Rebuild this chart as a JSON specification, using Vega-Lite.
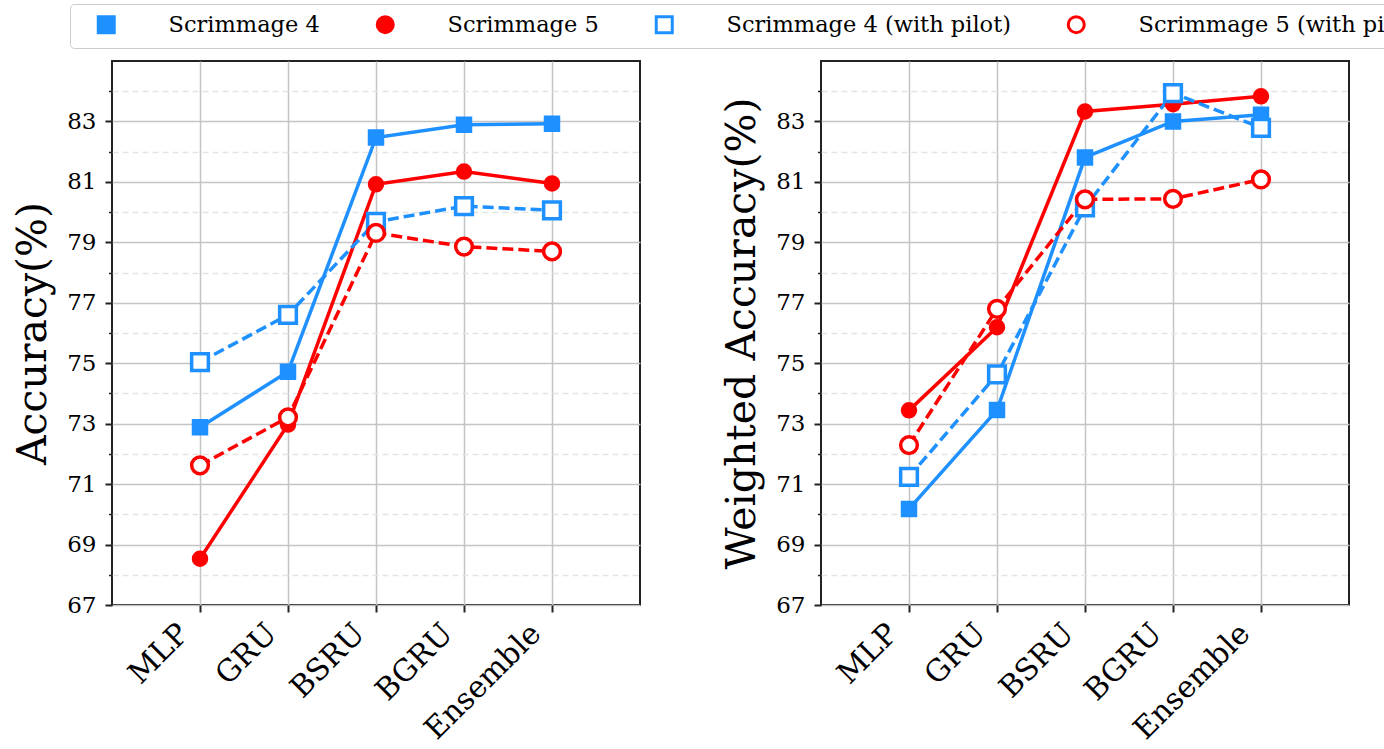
{
  "$schema": "https://vega.github.io/schema/vega-lite/v6.json",
  "description": "Accuracy and weighted accuracy by model, Scrimmage 4 and 5, with and without pilot.",
  "padding": {"left": 11, "top": 3, "right": 0, "bottom": 0},
  "spacing": 79,
  "datasets": {
    "acc": [
      {"panel": "Accuracy", "series": "Scrimmage 4", "model": "MLP", "value": 72.88},
      {"panel": "Accuracy", "series": "Scrimmage 4", "model": "GRU", "value": 74.72},
      {"panel": "Accuracy", "series": "Scrimmage 4", "model": "BSRU", "value": 82.47},
      {"panel": "Accuracy", "series": "Scrimmage 4", "model": "BGRU", "value": 82.89},
      {"panel": "Accuracy", "series": "Scrimmage 4", "model": "Ensemble", "value": 82.92},
      {"panel": "Accuracy", "series": "Scrimmage 5", "model": "MLP", "value": 68.53},
      {"panel": "Accuracy", "series": "Scrimmage 5", "model": "GRU", "value": 72.97},
      {"panel": "Accuracy", "series": "Scrimmage 5", "model": "BSRU", "value": 80.92},
      {"panel": "Accuracy", "series": "Scrimmage 5", "model": "BGRU", "value": 81.34},
      {"panel": "Accuracy", "series": "Scrimmage 5", "model": "Ensemble", "value": 80.95},
      {"panel": "Accuracy", "series": "Scrimmage 4 (with pilot)", "model": "MLP", "value": 75.04},
      {"panel": "Accuracy", "series": "Scrimmage 4 (with pilot)", "model": "GRU", "value": 76.6},
      {"panel": "Accuracy", "series": "Scrimmage 4 (with pilot)", "model": "BSRU", "value": 79.68},
      {"panel": "Accuracy", "series": "Scrimmage 4 (with pilot)", "model": "BGRU", "value": 80.2},
      {"panel": "Accuracy", "series": "Scrimmage 4 (with pilot)", "model": "Ensemble", "value": 80.06},
      {"panel": "Accuracy", "series": "Scrimmage 5 (with pilot)", "model": "MLP", "value": 71.62},
      {"panel": "Accuracy", "series": "Scrimmage 5 (with pilot)", "model": "GRU", "value": 73.21},
      {"panel": "Accuracy", "series": "Scrimmage 5 (with pilot)", "model": "BSRU", "value": 79.31},
      {"panel": "Accuracy", "series": "Scrimmage 5 (with pilot)", "model": "BGRU", "value": 78.86},
      {"panel": "Accuracy", "series": "Scrimmage 5 (with pilot)", "model": "Ensemble", "value": 78.7},
      {"panel": "Weighted", "series": "Scrimmage 4", "model": "MLP", "value": 70.18},
      {"panel": "Weighted", "series": "Scrimmage 4", "model": "GRU", "value": 73.45},
      {"panel": "Weighted", "series": "Scrimmage 4", "model": "BSRU", "value": 81.81},
      {"panel": "Weighted", "series": "Scrimmage 4", "model": "BGRU", "value": 83.0},
      {"panel": "Weighted", "series": "Scrimmage 4", "model": "Ensemble", "value": 83.22},
      {"panel": "Weighted", "series": "Scrimmage 5", "model": "MLP", "value": 73.44},
      {"panel": "Weighted", "series": "Scrimmage 5", "model": "GRU", "value": 76.19},
      {"panel": "Weighted", "series": "Scrimmage 5", "model": "BSRU", "value": 83.33},
      {"panel": "Weighted", "series": "Scrimmage 5", "model": "BGRU", "value": 83.57},
      {"panel": "Weighted", "series": "Scrimmage 5", "model": "Ensemble", "value": 83.83},
      {"panel": "Weighted", "series": "Scrimmage 4 (with pilot)", "model": "MLP", "value": 71.24},
      {"panel": "Weighted", "series": "Scrimmage 4 (with pilot)", "model": "GRU", "value": 74.63},
      {"panel": "Weighted", "series": "Scrimmage 4 (with pilot)", "model": "BSRU", "value": 80.16},
      {"panel": "Weighted", "series": "Scrimmage 4 (with pilot)", "model": "BGRU", "value": 83.94},
      {"panel": "Weighted", "series": "Scrimmage 4 (with pilot)", "model": "Ensemble", "value": 82.79},
      {"panel": "Weighted", "series": "Scrimmage 5 (with pilot)", "model": "MLP", "value": 72.29},
      {"panel": "Weighted", "series": "Scrimmage 5 (with pilot)", "model": "GRU", "value": 76.8},
      {"panel": "Weighted", "series": "Scrimmage 5 (with pilot)", "model": "BSRU", "value": 80.42},
      {"panel": "Weighted", "series": "Scrimmage 5 (with pilot)", "model": "BGRU", "value": 80.44},
      {"panel": "Weighted", "series": "Scrimmage 5 (with pilot)", "model": "Ensemble", "value": 81.08}
    ]
  },
  "data": {"name": "acc"},
  "hconcat": [
    {
      "width": 528,
      "height": 544,
      "transform": [{"filter": "datum.panel == 'Accuracy'"}],
      "resolve": {"axis": {"y": "independent"}},
      "layer": [
        {
          "transform": [{"filter": "indexof(datum.series, 'pilot') < 0"}],
          "mark": {"type": "line", "strokeWidth": 3.5},
          "encoding": {
            "x": {"field": "model", "type": "ordinal", "sort": ["MLP", "GRU", "BSRU", "BGRU", "Ensemble"], "scale": {"type": "point", "padding": 1},
              "axis": {"title": null, "labelAngle": -45, "labelAlign": "right", "labelBaseline": "top", "labelFontSize": 30, "labelPadding": 6, "labelOffset": -27, "tickSize": 7, "tickWidth": 2, "grid": true, "gridColor": "#c4c4c4", "gridWidth": 1.5}},
            "y": {"field": "value", "type": "quantitative", "scale": {"domain": [67, 85], "nice": false, "zero": false},
              "axis": {"title": "Accuracy(%)", "orient": "left", "values": [67, 69, 71, 73, 75, 77, 79, 81, 83], "labelFontSize": 23, "labelPadding": 9, "tickSize": 7, "tickWidth": 2, "titleFontSize": 41, "titlePadding": 12, "grid": true, "gridColor": "#c4c4c4", "gridWidth": 1.5}},
            "color": {"field": "series", "type": "nominal",
              "scale": {"domain": ["Scrimmage 4", "Scrimmage 5", "Scrimmage 4 (with pilot)", "Scrimmage 5 (with pilot)"], "range": ["#1E90FF", "#FF0000", "#1E90FF", "#FF0000"]}}
          }
        },
        {
          "transform": [{"filter": "indexof(datum.series, 'pilot') >= 0"}],
          "mark": {"type": "line", "strokeWidth": 3.5, "strokeDash": [11, 5]},
          "encoding": {
            "x": {"field": "model", "type": "ordinal", "sort": ["MLP", "GRU", "BSRU", "BGRU", "Ensemble"], "scale": {"type": "point", "padding": 1},
              "axis": {"title": null, "labelAngle": -45, "labelAlign": "right", "labelBaseline": "top", "labelFontSize": 30, "labelPadding": 6, "labelOffset": -27, "tickSize": 7, "tickWidth": 2, "grid": true, "gridColor": "#c4c4c4", "gridWidth": 1.5}},
            "y": {"field": "value", "type": "quantitative",
              "axis": {"title": null, "orient": "left", "values": [68, 70, 72, 74, 76, 78, 80, 82, 84], "labels": false, "tickSize": 3.5, "tickWidth": 1.5, "grid": true, "gridColor": "#e4e4e4", "gridWidth": 1.5, "gridDash": [6, 4]}},
            "color": {"field": "series", "type": "nominal"}
          }
        },
        {
          "transform": [{"filter": "indexof(datum.series, 'pilot') < 0"}],
          "mark": {"type": "point", "strokeWidth": 2, "size": 210, "opacity": 1},
          "encoding": {
            "x": {"field": "model", "type": "ordinal", "sort": ["MLP", "GRU", "BSRU", "BGRU", "Ensemble"]},
            "y": {"field": "value", "type": "quantitative", "axis": null},
            "stroke": {"field": "series", "type": "nominal",
              "scale": {"domain": ["Scrimmage 4", "Scrimmage 5", "Scrimmage 4 (with pilot)", "Scrimmage 5 (with pilot)"], "range": ["#1E90FF", "#FF0000", "#1E90FF", "#FF0000"]},
              "legend": {"orient": "none", "legendX": -42, "legendY": -57, "direction": "horizontal", "columns": 4, "title": null,
                "labelFont": "DejaVu Serif", "labelFontSize": 22.5, "labelColor": "#000000", "labelLimit": 500, "labelOffset": 51, "columnPadding": 38,
                "symbolSize": 256, "symbolOffset": 16, "symbolStrokeWidth": 3, "padding": 9, "fillColor": "#ffffff", "strokeColor": "#cccccc", "cornerRadius": 4}},
            "fill": {"field": "series", "type": "nominal",
              "scale": {"domain": ["Scrimmage 4", "Scrimmage 5", "Scrimmage 4 (with pilot)", "Scrimmage 5 (with pilot)"], "range": ["#1E90FF", "#FF0000", "#ffffff", "#ffffff"]}},
            "shape": {"field": "series", "type": "nominal",
              "scale": {"domain": ["Scrimmage 4", "Scrimmage 5", "Scrimmage 4 (with pilot)", "Scrimmage 5 (with pilot)"], "range": ["square", "circle", "square", "circle"]}}
          }
        },
        {
          "transform": [{"filter": "indexof(datum.series, 'pilot') >= 0"}],
          "mark": {"type": "point", "strokeWidth": 3.5, "size": 280, "opacity": 1},
          "encoding": {
            "x": {"field": "model", "type": "ordinal", "sort": ["MLP", "GRU", "BSRU", "BGRU", "Ensemble"]},
            "y": {"field": "value", "type": "quantitative", "axis": null},
            "stroke": {"field": "series", "type": "nominal"},
            "fill": {"field": "series", "type": "nominal"},
            "shape": {"field": "series", "type": "nominal"}
          }
        }
      ]
    },
    {
      "width": 528,
      "height": 544,
      "transform": [{"filter": "datum.panel == 'Weighted'"}],
      "resolve": {"axis": {"y": "independent"}},
      "layer": [
        {
          "transform": [{"filter": "indexof(datum.series, 'pilot') < 0"}],
          "mark": {"type": "line", "strokeWidth": 3.5},
          "encoding": {
            "x": {"field": "model", "type": "ordinal", "sort": ["MLP", "GRU", "BSRU", "BGRU", "Ensemble"], "scale": {"type": "point", "padding": 1},
              "axis": {"title": null, "labelAngle": -45, "labelAlign": "right", "labelBaseline": "top", "labelFontSize": 30, "labelPadding": 6, "labelOffset": -27, "tickSize": 7, "tickWidth": 2, "grid": true, "gridColor": "#c4c4c4", "gridWidth": 1.5}},
            "y": {"field": "value", "type": "quantitative", "scale": {"domain": [67, 85], "nice": false, "zero": false},
              "axis": {"title": "Weighted Accuracy(%)", "orient": "left", "values": [67, 69, 71, 73, 75, 77, 79, 81, 83], "labelFontSize": 23, "labelPadding": 9, "tickSize": 7, "tickWidth": 2, "titleFontSize": 41, "titlePadding": 12, "grid": true, "gridColor": "#c4c4c4", "gridWidth": 1.5}},
            "color": {"field": "series", "type": "nominal"}
          }
        },
        {
          "transform": [{"filter": "indexof(datum.series, 'pilot') >= 0"}],
          "mark": {"type": "line", "strokeWidth": 3.5, "strokeDash": [11, 5]},
          "encoding": {
            "x": {"field": "model", "type": "ordinal", "sort": ["MLP", "GRU", "BSRU", "BGRU", "Ensemble"], "scale": {"type": "point", "padding": 1},
              "axis": {"title": null, "labelAngle": -45, "labelAlign": "right", "labelBaseline": "top", "labelFontSize": 30, "labelPadding": 6, "labelOffset": -27, "tickSize": 7, "tickWidth": 2, "grid": true, "gridColor": "#c4c4c4", "gridWidth": 1.5}},
            "y": {"field": "value", "type": "quantitative",
              "axis": {"title": null, "orient": "left", "values": [68, 70, 72, 74, 76, 78, 80, 82, 84], "labels": false, "tickSize": 3.5, "tickWidth": 1.5, "grid": true, "gridColor": "#e4e4e4", "gridWidth": 1.5, "gridDash": [6, 4]}},
            "color": {"field": "series", "type": "nominal"}
          }
        },
        {
          "transform": [{"filter": "indexof(datum.series, 'pilot') < 0"}],
          "mark": {"type": "point", "strokeWidth": 2, "size": 210, "opacity": 1},
          "encoding": {
            "x": {"field": "model", "type": "ordinal", "sort": ["MLP", "GRU", "BSRU", "BGRU", "Ensemble"]},
            "y": {"field": "value", "type": "quantitative", "axis": null},
            "stroke": {"field": "series", "type": "nominal"},
            "fill": {"field": "series", "type": "nominal"},
            "shape": {"field": "series", "type": "nominal"}
          }
        },
        {
          "transform": [{"filter": "indexof(datum.series, 'pilot') >= 0"}],
          "mark": {"type": "point", "strokeWidth": 3.5, "size": 280, "opacity": 1},
          "encoding": {
            "x": {"field": "model", "type": "ordinal", "sort": ["MLP", "GRU", "BSRU", "BGRU", "Ensemble"]},
            "y": {"field": "value", "type": "quantitative", "axis": null},
            "stroke": {"field": "series", "type": "nominal"},
            "fill": {"field": "series", "type": "nominal"},
            "shape": {"field": "series", "type": "nominal"}
          }
        }
      ]
    }
  ],
  "config": {
    "font": "DejaVu Serif",
    "view": {"stroke": "#222222", "strokeWidth": 2},
    "axis": {"labelFont": "DejaVu Serif", "titleFont": "DejaVu Serif", "labelColor": "#000000", "titleColor": "#000000", "titleFontWeight": "normal", "tickColor": "#222222", "domain": false}
  }
}
